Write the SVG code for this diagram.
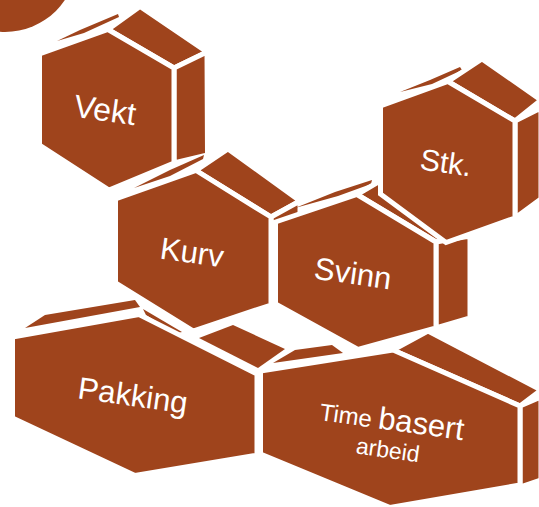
<svg xmlns="http://www.w3.org/2000/svg" width="539" height="507" viewBox="0 0 539 507">
<style>
.f{fill:#9F441C;stroke:#fff;stroke-width:5;stroke-linejoin:miter;stroke-miterlimit:4}
.s{fill:#9F441C;stroke:none}
.t{fill:#fff;font-family:"Liberation Sans",Arial,sans-serif;text-anchor:middle}
</style>
<rect width="539" height="507" fill="#fff"/>
<circle cx="5" cy="-40" r="72" fill="#9F441C"/>
<g id="pakking">
<polygon class="s" points="25,328 45,315 135,300 140,307"/>
<polygon class="s" points="143,309 182,332 176,333.5 146,315"/>
<polygon class="s" points="199,338 233,325 285,349 258,368"/>
<polygon class="f" points="12.5,337 139,314.5 257,374 257,455 135,475.5 12.5,418"/>
<text class="t" x="133" y="406" font-size="31" transform="rotate(8 133 395)">Pakking</text>
</g>
<g id="time">
<polygon class="s" points="273,363 295,350 332,345 343,353"/>
<polygon class="f" points="393,350 428,331 541,390 520,406"/>
<polygon class="f" points="520,406 541,397 541,480 520,487"/>
<polygon class="f" points="260.5,371 393,350 520,406 520,485 390,507.5 260.5,454"/>
<text class="t" transform="rotate(8 390 435)"><tspan x="390" y="430"><tspan font-size="24">Time </tspan><tspan font-size="31">basert</tspan></tspan><tspan x="390" y="458" font-size="23">arbeid</tspan></text>
</g>
<g id="vekt">
<polygon class="s" points="57,41 80,30 118,14 119,17 84,33"/>
<polygon class="f" points="108,29.5 140,6.5 207,52 174,68"/>
<polygon class="f" points="174,68 207,52 207.5,155 174,163"/>
<polygon class="f" points="39.5,54 108,29.5 174,68 174,163 109,190 39.5,145"/>
<text class="t" x="105" y="121" font-size="32" transform="rotate(8 105 110)">Vekt</text>
</g>
<g id="kurv">
<polygon class="s" points="134,188 170,170 204,155 203,159 170,176"/>
<polygon class="f" points="196,170.5 228,149 300,201 271,217"/>
<polygon class="f" points="271,217 300,201 300,295 271,304"/>
<polygon class="f" points="115.5,199 196,170.5 271,217 271,305 193,331 115.5,283"/>
<text class="t" x="192" y="263" font-size="31" transform="rotate(8 192 252)">Kurv</text>
</g>
<g id="svinn">
<polygon class="s" points="295,208 335,192 372,180 371,184 338,196"/>
<polygon class="f" points="357,194.5 385,178 470,236 436,242"/>
<polygon class="f" points="436,242 470,236 470,318 436,328"/>
<polygon class="f" points="275.5,222 357,194.5 436,242 436,328 358,349.5 275.5,304"/>
<text class="t" x="353" y="284" font-size="31" transform="rotate(8 353 273)">Svinn</text>
</g>
<g id="stk">
<polygon class="s" points="400,92 430,80 460,67 462,70 432,84"/>
<polygon class="f" points="448,81.5 482,59 541,100 515,121"/>
<polygon class="f" points="515,121 541,108 541,199 515,218"/>
<polygon class="f" points="380.5,106 448,81.5 515,121 515,218 446,242.5 380.5,194"/>
<text class="t" x="446" y="173" font-size="30" transform="rotate(8 446 162)">Stk.</text>
</g>
</svg>
